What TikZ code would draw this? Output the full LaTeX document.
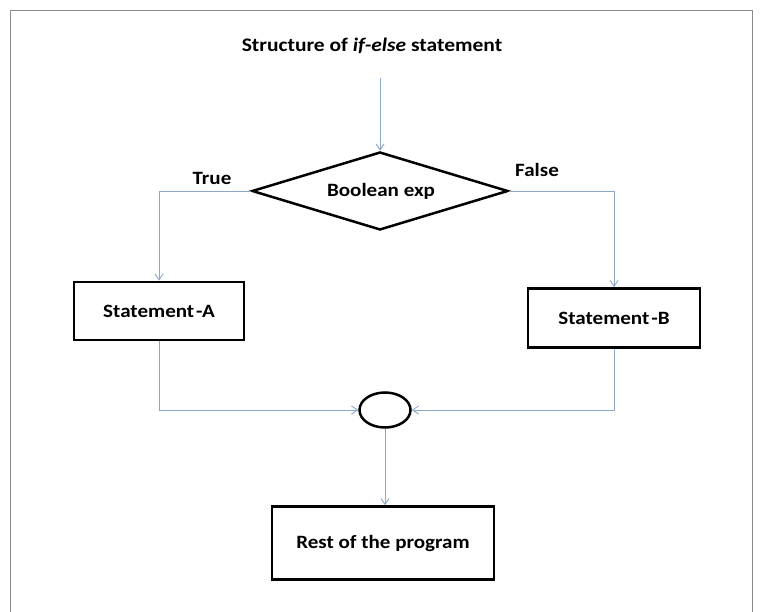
\documentclass[tikz,border=0pt]{standalone}
\usepackage{fontspec}
\setmainfont{Carlito}[FakeStretch=1.12]
\usetikzlibrary{shapes.geometric,arrows.meta}
\definecolor{flow}{HTML}{8CA8C8}
\definecolor{frame}{HTML}{8A8A8A}
\tikzset{
  x=1pt, y=-1pt,
  box/.style={draw=black, line width=2.5pt, minimum width=#1, inner sep=0pt},
  lbl/.style={font=\bfseries\fontsize{18.8}{22}\selectfont, inner sep=0pt},
  flowline/.style={draw=flow, line width=0.9pt, -{Straight Barb[length=6pt,width=8pt]}}
}
\begin{document}
\begin{tikzpicture}
\useasboundingbox (0,0) rectangle (764,612);
\fill[white] (0,0) rectangle (764,612);
% outer frame
\draw[frame, line width=1pt] (10.5,612) -- (10.5,10.5) -- (752.5,10.5) -- (752.5,612);

% title
\node[lbl, font=\bfseries\fontsize{19.2}{22}\selectfont] (title) at (372,46) {Structure of \textit{if-else} statement};
\coordinate (start) at (380,78);

% decision
\node[draw=black, line width=2.5pt, diamond, aspect=3.3, minimum width=256pt, minimum height=78pt, inner sep=0pt] (cond) at (380,191) {};
\node[lbl] (condtxt) at (381,191) {Boolean exp};
\node[lbl] (true) at (212,178) {True};
\node[lbl] (false) at (537,170) {False};

% branches
\node[box=170pt, minimum height=58pt] (a) at (159,311) {};
\node[lbl] (atxt) at (159,311) {Statement\hspace{2pt}-A};
\node[box=172pt, minimum height=59pt] (b) at (614,318) {};
\node[lbl] (btxt) at (614,318) {Statement\hspace{2pt}-B};

% join
\node[draw=black, line width=2.5pt, ellipse, minimum width=51pt, minimum height=35pt, inner sep=0pt] (join) at (385,410) {};

% rest
\node[box=222pt, minimum height=73pt] (rest) at (383,543) {};
\node[lbl] (resttxt) at (383,543) {Rest of the program};

% connectors
\draw[flowline] (start) -- (cond.north);
\draw[flowline] (cond.west) -| (a.north);
\draw[flowline] (cond.east) -| (b.north);
\draw[flowline] (a.south) |- (join.west);
\draw[flowline] (b.south) |- (join.east);
\draw[flowline] (join.south) -- (join.south |- rest.north);
\end{tikzpicture}
\end{document}
